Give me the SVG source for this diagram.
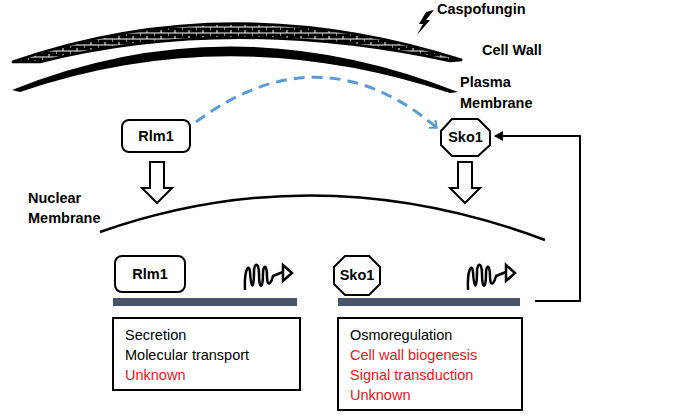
<svg xmlns="http://www.w3.org/2000/svg" width="690" height="418" viewBox="0 0 690 418">
<style>
text{font-family:"Liberation Sans",Arial,sans-serif;fill:#000}
.b{font-weight:bold;font-size:14.5px}
.t{font-size:14.5px}
.r{fill:#e8171b}
.box{fill:#fff;stroke:#000;stroke-width:2}
.bar{fill:#48546a}
.sq{fill:none;stroke:#000;stroke-width:2.5}
</style>
<defs>
<marker id="ah" markerWidth="10" markerHeight="10" refX="8" refY="5" orient="auto" markerUnits="userSpaceOnUse"><path d="M0,0 L9,5 L0,10 z" fill="#000"/></marker>
<marker id="bh" markerWidth="12" markerHeight="12" refX="6" refY="6" orient="auto" markerUnits="userSpaceOnUse"><path d="M1,1 L7,6 L1,11" fill="none" stroke="#5b9bd5" stroke-width="2"/></marker>
<pattern id="brick" width="14" height="6" patternUnits="userSpaceOnUse"><rect width="14" height="6" fill="#000"/><path d="M0,3H14M7,0V3M0,3V6" stroke="#fff" stroke-width="1"/></pattern>
</defs>
<g id="cellwall">
<path d="M12,62 Q230,-14 462,60 L450,61 Q230,14 40,62 Z" fill="url(#brick)" stroke="#000" stroke-width="2.5"/>
<text class="b" x="482" y="55">Cell Wall</text>
</g>
<g id="caspo">
<path d="M434,10 L426,20 L430,20 L417,35 L423,24 L419,24 L426,12 Z" fill="#000"/>
<text class="b" x="437" y="14">Caspofungin</text>
</g>
<g id="plasma">
<path d="M12,90 Q230,2 458,92 L450,93 Q230,20 20,92 Z" fill="#000"/>
<text class="b" x="460" y="87">Plasma</text>
<text class="b" x="460" y="108">Membrane</text>
</g>
<g id="nuclear">
<path d="M100,232 Q320,155 545,240" fill="none" stroke="#000" stroke-width="2.5"/>
<text class="b" x="28" y="203">Nuclear</text>
<text class="b" x="28" y="223">Membrane</text>
</g>
<g id="rlm1-top"><rect class="box" x="122" y="120" width="68" height="32" rx="7" stroke-width="3"/><text class="b" x="156" y="141" text-anchor="middle">Rlm1</text></g>
<g id="sko1-top"><path class="box" stroke-width="3" d="M452,119 H478 L490,131 V145 L478,156 H452 L441,145 V131 Z"/><text class="b" x="465.5" y="142" text-anchor="middle">Sko1</text></g>
<g id="rlm1-nuc"><rect class="box" x="115" y="256" width="70" height="36" rx="7" stroke-width="3"/><text class="b" x="150" y="279" text-anchor="middle">Rlm1</text></g>
<g id="sko1-nuc"><path class="box" stroke-width="3" d="M345,256 H369 L380,267 V284 L369,295 H345 L334,284 V267 Z"/><text class="b" x="357" y="280" text-anchor="middle">Sko1</text></g>
<g id="gene1">
<path class="sq" d="M245,290 C244,270 249,262 250,272 C251,290 254,290 254,272 C254,262 259,262 259,274 C259,290 263,290 263,274 C263,264 267,264 267,276 C267,288 271,284 273,276 L283,272"/><path d="M283,265 L292,273 L283,281 Z" fill="#fff" stroke="#000" stroke-width="2.5"/>
<rect class="bar" x="113" y="298" width="184" height="8"/>
</g>
<g id="gene2">
<path class="sq" d="M468,290 C467,270 472,262 473,272 C474,290 477,290 477,272 C477,262 482,262 482,274 C482,290 486,290 486,274 C486,264 490,264 490,276 C490,288 494,284 496,276 L506,272"/><path d="M506,265 L515,273 L506,281 Z" fill="#fff" stroke="#000" stroke-width="2.5"/>
<rect class="bar" x="338" y="298" width="182" height="8"/>
</g>
<g id="box1"><rect class="box" x="113" y="318" width="187" height="72"/>
<text class="t" x="125" y="340">Secretion</text><text class="t" x="125" y="360">Molecular transport</text><text class="t r" x="125" y="380">Unknown</text></g>
<g id="box2"><rect class="box" x="338" y="318" width="184" height="92"/>
<text class="t" x="350" y="340">Osmoregulation</text><text class="t r" x="350" y="360">Cell wall biogenesis</text><text class="t r" x="350" y="380">Signal transduction</text><text class="t r" x="350" y="400">Unknown</text></g>
<g id="connectors">
<path d="M196,122 Q320,30 436,127" fill="none" stroke="#5b9bd5" stroke-width="3" stroke-dasharray="11,7" marker-end="url(#bh)"/>
<path d="M150,162 H164 V188 H172 L157,203 L142,188 H150 Z" fill="#fff" stroke="#000" stroke-width="2"/>
<path d="M458,162 H472 V188 H480 L465,203 L450,188 H458 Z" fill="#fff" stroke="#000" stroke-width="2"/>
<path d="M535,301 H580 V136 H495" fill="none" stroke="#000" stroke-width="2" marker-end="url(#ah)"/>
</g>
</svg>
